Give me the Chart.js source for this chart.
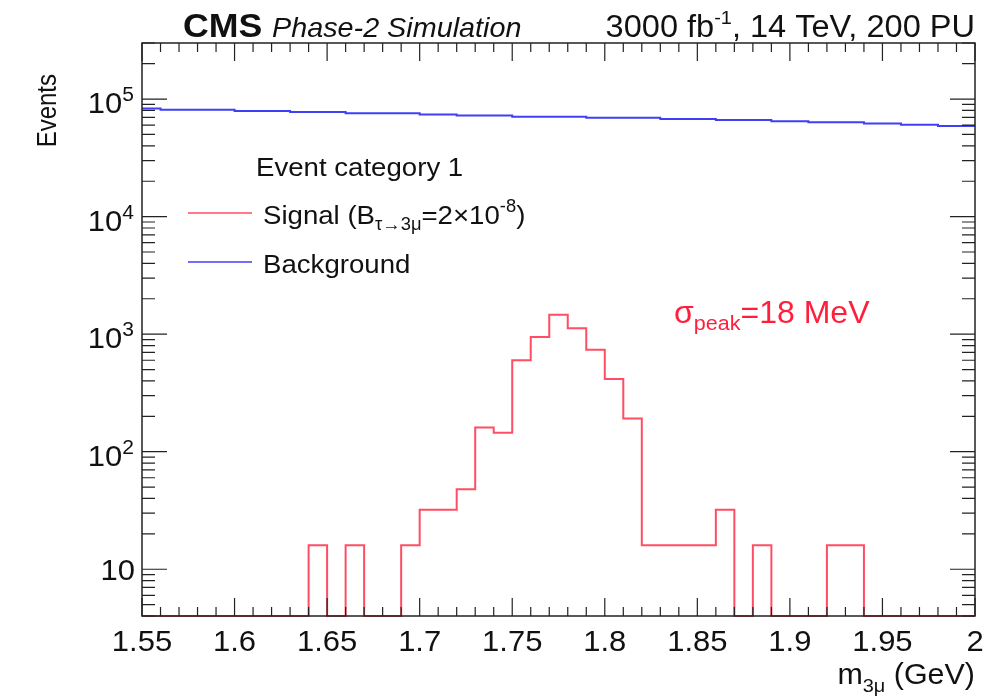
<!DOCTYPE html>
<html>
<head>
<meta charset="utf-8">
<script src="https://cdn.jsdelivr.net/npm/chart.js@4.4.1/dist/chart.umd.min.js"></script>
<style>
  html, body { margin: 0; padding: 0; background: #fff; }
  canvas { display: block; }
</style>
</head>
<body>
<canvas id="chart" width="1008" height="697"></canvas>
<script>
// bins are 0.01 GeV wide, from 1.55 to 2.0
const X_MIN = 1.55;
const X_MAX = 2.0;
const BIN_WIDTH = 0.01;
const Y_MIN = 4;
const Y_MAX = 3e5;

const signalCounts = [
  0, 0, 0, 0, 0, 0, 0, 0, 0,
  16, 0, 16, 0, 0, 16,
  32, 32, 48, 161, 145,
  600, 948, 1460, 1125, 735,
  415, 192, 16, 16, 16,
  16, 32, 0, 16, 0,
  0, 0, 16, 16, 0,
  0, 0, 0, 0, 0,
];

const backgroundCounts = [
  83000,
  81000, 81000, 81000, 81000,
  79300, 79300, 79300,
  77500, 77500, 77500,
  75800, 75800, 75800, 75800,
  74100, 74100,
  72500, 72500, 72500,
  70900, 70900, 70900, 70900,
  69300, 69300, 69300, 69300,
  67800, 67800, 67800,
  66300, 66300, 66300,
  64800, 64800,
  63400, 63400, 63400,
  62000, 62000,
  60600, 60600,
  59000, 59000,
];

const xTickValues = [1.55, 1.6, 1.65, 1.7, 1.75, 1.8, 1.85, 1.9, 1.95, 2.0];
const xTickLabels = ['1.55', '1.6', '1.65', '1.7', '1.75', '1.8', '1.85', '1.9', '1.95', '2'];
const yTickValues = [10, 100, 1000, 10000, 100000];
const yTickExponents = ['', '2', '3', '4', '5'];

const SIGNAL_COLOR = '#ff4d63';
const BKG_COLOR = '#3f3ff5';
const FONT = '"Liberation Sans", Arial, Helvetica, sans-serif';
const STRETCH = 1.05;

// histogram -> step points at the low edge of every bin, plus the last high edge
function toSteps(counts) {
  const pts = counts.map((c, i) => ({
    x: +(X_MIN + i * BIN_WIDTH).toFixed(2),
    y: c > 0 ? c : Y_MIN,
  }));
  pts.push({ x: X_MAX, y: pts[pts.length - 1].y });
  return pts;
}

function drawRich(ctx, x, y, parts, align) {
  let total = 0;
  parts.forEach((p) => {
    ctx.font = p.font;
    p.w = ctx.measureText(p.t).width * STRETCH;
    total += p.w;
  });
  let cx = x;
  if (align === 'right') cx = x - total;
  if (align === 'center') cx = x - total / 2;
  parts.forEach((p) => {
    ctx.save();
    ctx.fillStyle = p.color || '#111';
    ctx.font = p.font;
    ctx.textAlign = 'left';
    ctx.textBaseline = 'alphabetic';
    ctx.translate(cx, y + (p.dy || 0));
    ctx.scale(STRETCH, 1);
    ctx.fillText(p.t, 0, 0);
    ctx.restore();
    cx += p.w;
  });
}

const frame = {
  id: 'frame',
  afterDraw(chart) {
    const { ctx, chartArea: a, scales } = chart;
    const xs = scales.x;
    const ys = scales.y;
    ctx.save();

    // frame
    ctx.strokeStyle = '#222';
    ctx.lineWidth = 1.5;
    ctx.strokeRect(a.left, a.top, a.right - a.left, a.bottom - a.top);

    // x ticks (bottom and top, pointing inward)
    ctx.lineWidth = 1.2;
    ctx.beginPath();
    for (let i = 0; i <= 45; i++) {
      const px = xs.getPixelForValue(X_MIN + i * BIN_WIDTH);
      const len = i % 5 === 0 ? 18 : 9;
      ctx.moveTo(px, a.bottom);
      ctx.lineTo(px, a.bottom - len);
      ctx.moveTo(px, a.top);
      ctx.lineTo(px, a.top + len);
    }
    // y ticks (left and right)
    for (let e = 0; e <= 5; e++) {
      for (let m = 1; m <= 9; m++) {
        const v = m * Math.pow(10, e);
        if (v < Y_MIN || v > Y_MAX) continue;
        const py = ys.getPixelForValue(v);
        const len = m === 1 ? 25 : 13;
        ctx.moveTo(a.left, py);
        ctx.lineTo(a.left + len, py);
        ctx.moveTo(a.right, py);
        ctx.lineTo(a.right - len, py);
      }
    }
    ctx.stroke();

    // x tick labels
    const tickFont = '29.5px ' + FONT;
    xTickValues.forEach((v, i) => {
      drawRich(ctx, xs.getPixelForValue(v), 651, [{ t: xTickLabels[i], font: tickFont }], 'center');
    });
    // y tick labels
    yTickValues.forEach((v, i) => {
      const py = ys.getPixelForValue(v);
      if (yTickExponents[i] === '') {
        drawRich(ctx, 135, py + 11, [{ t: '10', font: tickFont }], 'right');
      } else {
        drawRich(ctx, 134, py + 14, [
          { t: '10', font: tickFont },
          { t: yTickExponents[i], font: '20px ' + FONT, dy: -12 },
        ], 'right');
      }
    });

    // axis titles
    drawRich(ctx, 975, 684, [
      { t: 'm', font: '29px ' + FONT },
      { t: '3\u03bc', font: '19px ' + FONT, dy: 8 },
      { t: ' (GeV)', font: '29px ' + FONT },
    ], 'right');
    ctx.save();
    ctx.translate(56, 74);
    ctx.rotate(-Math.PI / 2);
    ctx.scale(1, 1.15);
    ctx.font = '24px ' + FONT;
    ctx.fillStyle = '#111';
    ctx.textAlign = 'right';
    ctx.fillText('Events', 0, 0);
    ctx.restore();

    // header
    drawRich(ctx, 183, 37, [{ t: 'CMS', font: 'bold 34px ' + FONT }], 'left');
    drawRich(ctx, 272, 37, [{ t: 'Phase-2 Simulation', font: 'italic 27.4px ' + FONT }], 'left');
    drawRich(ctx, 975, 37, [
      { t: '3000 fb', font: '31px ' + FONT },
      { t: '-1', font: '19px ' + FONT, dy: -13 },
      { t: ', 14 TeV, 200 PU', font: '31px ' + FONT },
    ], 'right');

    // legend
    const lf = '26.3px ' + FONT;
    const sf = '17.5px ' + FONT;
    drawRich(ctx, 256, 176, [{ t: 'Event category 1', font: lf }], 'left');
    ctx.lineWidth = 1.6;
    ctx.strokeStyle = SIGNAL_COLOR;
    ctx.beginPath();
    ctx.moveTo(188, 213);
    ctx.lineTo(252, 213);
    ctx.stroke();
    drawRich(ctx, 263, 224, [
      { t: 'Signal (B', font: lf },
      { t: '\u03c4\u21923\u03bc', font: sf, dy: 6 },
      { t: '=2\u00d710', font: lf },
      { t: '-8', font: sf, dy: -12 },
      { t: ')', font: lf },
    ], 'left');
    ctx.strokeStyle = BKG_COLOR;
    ctx.beginPath();
    ctx.moveTo(188, 262);
    ctx.lineTo(252, 262);
    ctx.stroke();
    drawRich(ctx, 263, 273, [{ t: 'Background', font: lf }], 'left');

    // resolution label
    drawRich(ctx, 674, 323, [
      { t: '\u03c3', font: '30.5px ' + FONT, color: '#ff1f3d' },
      { t: 'peak', font: '20.5px ' + FONT, color: '#ff1f3d', dy: 7 },
      { t: '=18 MeV', font: '30.5px ' + FONT, color: '#ff1f3d' },
    ], 'left');

    ctx.restore();
  },
};

new Chart(document.getElementById('chart').getContext('2d'), {
  type: 'line',
  data: {
    datasets: [
      {
        label: 'Background',
        data: toSteps(backgroundCounts),
        borderColor: BKG_COLOR,
        borderWidth: 2,
        stepped: 'before',
        pointRadius: 0,
        fill: false,
        clip: 3,
      },
      {
        label: 'Signal',
        data: toSteps(signalCounts),
        borderColor: SIGNAL_COLOR,
        borderWidth: 2,
        stepped: 'before',
        pointRadius: 0,
        fill: false,
        clip: 3,
      },
    ],
  },
  options: {
    responsive: false,
    animation: false,
    layout: { padding: { left: 142, right: 33, top: 43, bottom: 81 } },
    plugins: {
      legend: { display: false },
      tooltip: { enabled: false },
    },
    scales: {
      x: { type: 'linear', min: X_MIN, max: X_MAX, display: false },
      y: { type: 'logarithmic', min: Y_MIN, max: Y_MAX, display: false },
    },
  },
  plugins: [frame],
});
</script>
</body>
</html>
